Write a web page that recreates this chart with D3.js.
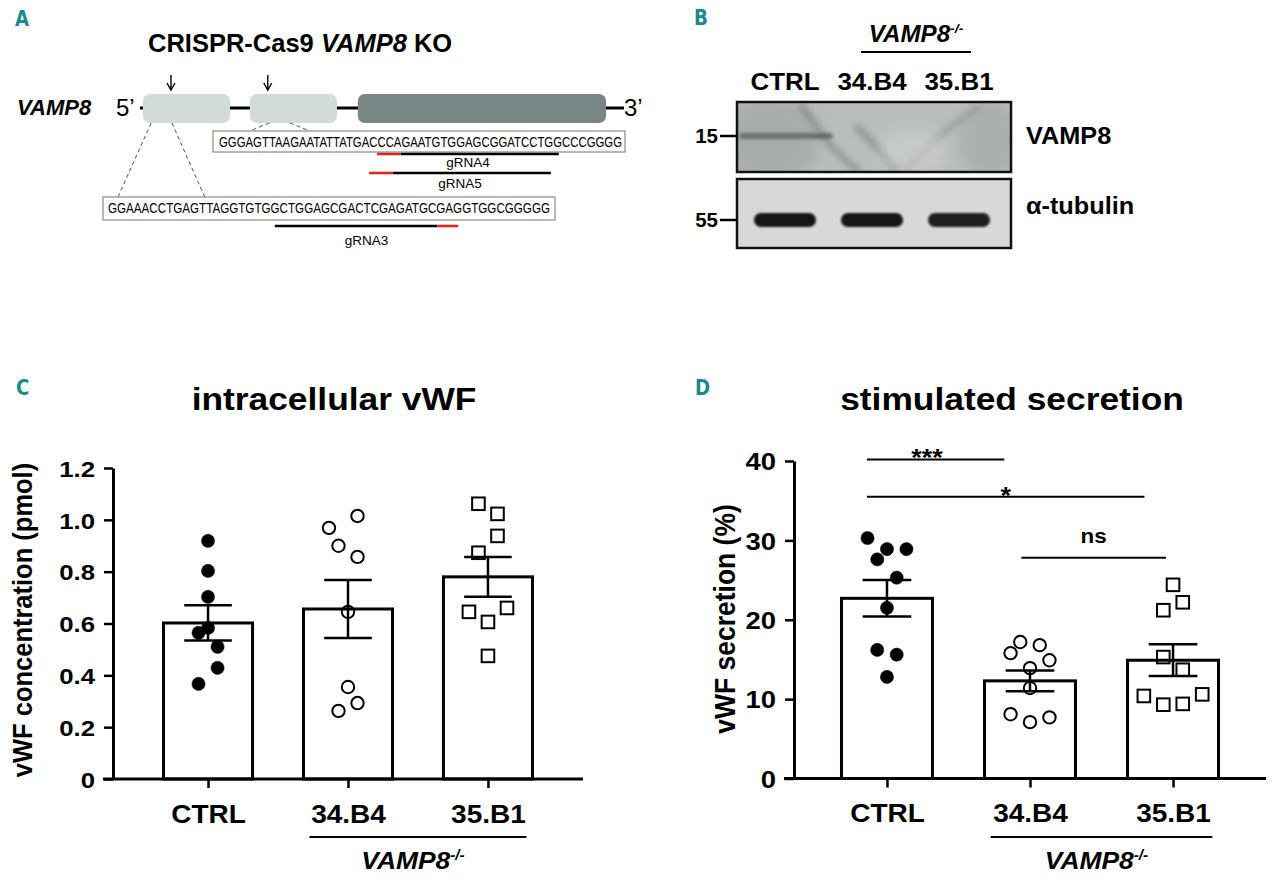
<!DOCTYPE html>
<html><head><meta charset="utf-8">
<script src="https://cdn.jsdelivr.net/npm/d3@7"></script>
<style>body{margin:0;background:#fff;} svg{display:block;font-family:"Liberation Sans",Arial,Helvetica,sans-serif;}</style>
</head><body><svg id="fig" width="1280" height="882"></svg>
<script>
// ---------------- DATA ----------------
const groups = ["CTRL", "34.B4", "35.B1"];

// Panel C: intracellular vWF (pmol)
const intraMean = [0.602, 0.656, 0.780];
const intraSEM = [0.068, 0.112, 0.077];
const intraCTRL = [0.919, 0.803, 0.703, 0.583, 0.564, 0.510, 0.429, 0.367];
const intraB4 = [1.015, 0.969, 0.900, 0.857, 0.645, 0.355, 0.293, 0.263];
const intraB1 = [1.062, 1.023, 0.938, 0.873, 0.660, 0.645, 0.606, 0.475];
const intraLanesCTRL = [0, 0, 0, 0, -1, 1, 1, -1];
const intraLanesB4 = [1, -2, -1, 1, 0, 0, 1, -1];
const intraLanesB1 = [-1, 1, 1, -1, 2, -2, 0, 0];
const intraTicks = [0, 0.2, 0.4, 0.6, 0.8, 1.0, 1.2];

// Panel D: stimulated secretion (%)
const secrMean = [22.7, 12.3, 14.9];
const secrSEM = [2.3, 1.3, 2.0];
const secrCTRL = [30.3, 28.9, 28.9, 27.6, 25.3, 21.5, 16.2, 15.6, 12.8];
const secrB4 = [17.2, 16.8, 15.8, 14.9, 13.9, 11.4, 8.1, 7.1, 7.7];
const secrB1 = [24.4, 22.2, 21.2, 15.3, 13.7, 10.4, 9.3, 9.4, 10.6];
const secrLanesCTRL = [-2, 0, 2, -1, 1, 0, -1, 1, 0];
const secrLanesB4 = [-1, 1, -2, 2, 0, 0, -2, 0, 2];
const secrLanesB1 = [0, 1, -1, -1, 1, -3, -1, 1, 3];
const secrTicks = [0, 10, 20, 30, 40];
const comparisons = [
  { from: -0.14, to: 0.82, y: 40.2, label: "***", at: 0.28 },
  { from: -0.14, to: 1.80, y: 35.5, label: "*", at: 0.83 },
  { from: 0.94, to: 1.95, y: 27.8, label: "ns", at: 1.445 }
];

// Panel A: gene schematic (relative units) and sequences
const exonStart = [0.6, 22.7, 45.0];
const exonEnd = [18.6, 40.7, 96.3];
const exonCoding = [false, false, true];
const cutSites = [6.4, 26.4];
const seqExon2 = "GGGAGTTAAGAATATTATGACCCAGAATGTGGAGCGGATCCTGGCCCGGGG";
const seqExon1 = "GGAAACCTGAGTTAGGTGTGGCTGGAGCGACTCGAGATGCGAGGTGGCGGGGG";
const guideNames = ["gRNA4", "gRNA5", "gRNA3"];
const guideTarget = ["ex2", "ex2", "ex1"];
const guideSpacer = [[23, 43], [22, 42], [20, 39.5]];
const guidePAM = [[20, 23], [19, 22], [39.5, 42]];

// Panel B: western blot
const blotLanes = ["CTRL", "34.B4", "35.B1"];
const vamp8Signal = [0.55, 0.0, 0.0];
const tubulinSignal = [1.0, 1.0, 0.95];
const markerLabels = ["15", "55"];
const blotTargets = ["VAMP8", "α-tubulin"];

// ---------------- HELPERS ----------------
const svg = d3.select("#fig");
svg.append("rect").attr("width", 1280).attr("height", 882).attr("fill", "#fff");
const defs = svg.append("defs");
function blur(id, sd) {
  defs.append("filter").attr("id", id).attr("x", "-50%").attr("y", "-50%")
    .attr("width", "200%").attr("height", "200%")
    .append("feGaussianBlur").attr("stdDeviation", sd);
}
blur("b1", 1.1); blur("b2", 1.8); blur("b3", 3); blur("b6", 7);

function stext(parent, x, y, str, o = {}) {
  const g = parent.append("g").attr("transform",
    `translate(${x},${y}) scale(${o.sx || 1},1)${o.rot ? ` rotate(${o.rot})` : ""}`);
  const t = g.append("text")
    .attr("text-anchor", o.anchor || "start")
    .attr("font-size", o.size || 20)
    .attr("font-weight", o.weight || "bold")
    .attr("font-style", o.style || "normal")
    .attr("fill", o.fill || "#000");
  if (o.family) t.attr("font-family", o.family);
  if (str !== null) t.text(str);
  return t;
}
const letterOpts = { size: 22, weight: "bold", fill: "#1a8a8a", sx: 0.92,
  family: "'Liberation Sans Narrow','DejaVu Sans Condensed','Roboto',sans-serif" };

function vampKO(parent, cx, y, size, sx) {
  const t = stext(parent, cx, y, null, { anchor: "middle", size: size, style: "italic", sx: sx });
  t.append("tspan").text("VAMP8");
  t.append("tspan").attr("dy", -size * 0.38).attr("font-size", size * 0.58).text("-/-");
  return t;
}

// ---------------- PANEL A ----------------
const A = svg.append("g");
stext(A, 15, 26, "A", letterOpts);
const ttl = stext(A, 148, 52, null, { size: 25.5 });
ttl.append("tspan").text("CRISPR-Cas9 ");
ttl.append("tspan").attr("font-style", "italic").text("VAMP8");
ttl.append("tspan").text(" KO");
stext(A, 17, 115, "VAMP8", { size: 22, style: "italic" });
stext(A, 116, 116, "5’", { size: 24, weight: "normal" });
stext(A, 624, 116, "3’", { size: 24, weight: "normal" });

const gx = d3.scaleLinear().domain([0, 100]).range([140, 624]);
const geneY = 108, exonTop = 94, exonH = 29;
A.append("line").attr("x1", gx(0)).attr("x2", gx(100)).attr("y1", geneY).attr("y2", geneY)
  .attr("stroke", "#000").attr("stroke-width", 3);
A.selectAll("rect.exon").data(exonStart).join("rect").attr("class", "exon")
  .attr("x", (d) => gx(d)).attr("y", exonTop)
  .attr("width", (d, i) => gx(exonEnd[i]) - gx(d)).attr("height", exonH)
  .attr("rx", 7).attr("fill", (d, i) => exonCoding[i] ? "#788685" : "#d3dbd9");
cutSites.forEach(c => {
  A.append("line").attr("x1", gx(c)).attr("x2", gx(c)).attr("y1", 75).attr("y2", 90)
    .attr("stroke", "#000").attr("stroke-width", 1.4);
  A.append("path").attr("d", `M${gx(c) - 4},83 L${gx(c)},90 L${gx(c) + 4},83`)
    .attr("fill", "none").attr("stroke", "#000").attr("stroke-width", 1.4);
});

const seqBoxes = {
  ex2: { x: 213, y: 131, w: 412, h: 21, tx: 219, tl: 403, base: 147, seq: seqExon2 },
  ex1: { x: 103, y: 197, w: 452, h: 23, tx: 108, tl: 442, base: 213, seq: seqExon1 }
};
Object.values(seqBoxes).forEach(b => {
  b.cx = d3.scaleLinear().domain([0, b.seq.length]).range([b.tx, b.tx + b.tl]);
  A.append("rect").attr("x", b.x).attr("y", b.y).attr("width", b.w).attr("height", b.h)
    .attr("fill", "#fff").attr("stroke", "#8a8a8a").attr("stroke-width", 1.2);
  A.append("text").attr("x", b.tx).attr("y", b.base).attr("font-size", 14.5)
    .attr("textLength", b.tl).attr("lengthAdjust", "spacingAndGlyphs").text(b.seq);
});
// zoom (dashed) lines from exons to sequence boxes
const zoomLinks = [
  { gene: [2.3, 6.6], box: "ex1", chars: [1.2, 11.6] },
  { gene: [26.7, 31.0], box: "ex2", chars: [3.9, 11.5] }
];
zoomLinks.forEach(z => {
  const b = seqBoxes[z.box];
  [0, 1].forEach(k => {
    A.append("line").attr("x1", gx(z.gene[k])).attr("y1", exonTop + exonH)
      .attr("x2", b.cx(z.chars[k])).attr("y2", b.y)
      .attr("stroke", "#555").attr("stroke-width", 1).attr("stroke-dasharray", "4,3");
  });
});
const guideRowY = [154, 173, 226];
const guideLabelY = [167, 188, 245];
guideNames.forEach((nm, i) => {
  const b = seqBoxes[guideTarget[i]];
  A.append("line").attr("x1", b.cx(guideSpacer[i][0])).attr("x2", b.cx(guideSpacer[i][1]))
    .attr("y1", guideRowY[i]).attr("y2", guideRowY[i]).attr("stroke", "#000").attr("stroke-width", 2.6);
  A.append("line").attr("x1", b.cx(guidePAM[i][0])).attr("x2", b.cx(guidePAM[i][1]))
    .attr("y1", guideRowY[i]).attr("y2", guideRowY[i]).attr("stroke", "#d42a2a").attr("stroke-width", 2.6);
  const lo = Math.min(guideSpacer[i][0], guidePAM[i][0]);
  const hi = Math.max(guideSpacer[i][1], guidePAM[i][1]);
  A.append("text").attr("x", (b.cx(lo) + b.cx(hi)) / 2).attr("y", guideLabelY[i])
    .attr("text-anchor", "middle").attr("font-size", 13.5).text(nm);
});

// ---------------- PANEL B ----------------
const B = svg.append("g");
stext(B, 694, 25, "B", letterOpts);
vampKO(B, 916, 42, 23, 1.05);
B.append("line").attr("x1", 861).attr("x2", 971).attr("y1", 52).attr("y2", 52)
  .attr("stroke", "#000").attr("stroke-width", 2);
const lx = d3.scalePoint().domain(blotLanes).range([785, 959]);
blotLanes.forEach(l => stext(B, lx(l), 90, l, { anchor: "middle", size: 24, sx: 1.08 }));
const blots = [
  { x: 737, y: 102, w: 274, h: 70, band: 136, fill: "#b9bdbc" },
  { x: 737, y: 179, w: 274, h: 69, band: 220, fill: "#d6d9d8" }
];
blots.forEach((bl, k) => {
  const cp = "clipB" + k;
  defs.append("clipPath").attr("id", cp).append("rect")
    .attr("x", bl.x).attr("y", bl.y).attr("width", bl.w).attr("height", bl.h);
  const gb = B.append("g").attr("clip-path", `url(#${cp})`);
  gb.append("rect").attr("x", bl.x).attr("y", bl.y).attr("width", bl.w).attr("height", bl.h).attr("fill", bl.fill);
  if (k === 0) {
    // background smears of the VAMP8 membrane
    gb.append("ellipse").attr("cx", 770).attr("cy", 140).attr("rx", 50).attr("ry", 45)
      .attr("fill", "#8a908f").attr("opacity", 0.35).attr("filter", "url(#b6)");
    gb.append("ellipse").attr("cx", 990).attr("cy", 140).attr("rx", 30).attr("ry", 40)
      .attr("fill", "#8f9594").attr("opacity", 0.35).attr("filter", "url(#b6)");
    gb.append("path").attr("d", "M800,104 Q815,125 830,145 Q850,165 860,172")
      .attr("stroke", "#5f6564").attr("stroke-width", 6).attr("fill", "none").attr("opacity", 0.45).attr("filter", "url(#b3)");
    gb.append("path").attr("d", "M856,126 Q880,150 898,172")
      .attr("stroke", "#5f6564").attr("stroke-width", 7).attr("fill", "none").attr("opacity", 0.45).attr("filter", "url(#b3)");
    gb.append("path").attr("d", "M905,172 Q930,140 980,106")
      .attr("stroke", "#6b7170").attr("stroke-width", 6).attr("fill", "none").attr("opacity", 0.35).attr("filter", "url(#b3)");
    gb.append("ellipse").attr("cx", 912).attr("cy", 152).attr("rx", 35).attr("ry", 22)
      .attr("fill", "#d0d3d2").attr("opacity", 0.55).attr("filter", "url(#b6)");
    blotLanes.forEach((l, i) => {
      if (vamp8Signal[i] <= 0) return;
      gb.append("rect").attr("x", lx(l) - 46).attr("y", bl.band - 3).attr("width", 94).attr("height", 6)
        .attr("rx", 3).attr("fill", "#3d4241").attr("opacity", vamp8Signal[i]).attr("filter", "url(#b2)");
    });
  } else {
    blotLanes.forEach((l, i) => {
      gb.append("rect").attr("x", lx(l) - 31).attr("y", bl.band - 7).attr("width", 62).attr("height", 14)
        .attr("rx", 7).attr("fill", "#141414").attr("opacity", tubulinSignal[i]).attr("filter", "url(#b1)");
    });
  }
  B.append("rect").attr("x", bl.x).attr("y", bl.y).attr("width", bl.w).attr("height", bl.h)
    .attr("fill", "none").attr("stroke", "#111").attr("stroke-width", 2.5);
  B.append("line").attr("x1", 720).attr("x2", bl.x).attr("y1", bl.band).attr("y2", bl.band)
    .attr("stroke", "#000").attr("stroke-width", 2.5);
  stext(B, 718, bl.band + 7, markerLabels[k], { anchor: "end", size: 19.5, sx: 1.05 });
  stext(B, 1026, bl.band + (k === 0 ? 8 : -6), blotTargets[k], { size: 23, sx: 1.1 });
});

// ---------------- PANELS C & D ----------------
function barChart(cfg) {
  const g = svg.append("g");
  const x = d3.scalePoint().domain(groups).range(cfg.xRange).padding(cfg.pad);
  const step = x.step();
  const y = d3.scaleLinear().domain(cfg.yDomain).range(cfg.yRange);
  const bw = step * 0.636, cap = step * 0.34, lane = step * 0.068;
  const ix = i => x(groups[0]) + i * step;

  stext(g, cfg.letter[0], cfg.letter[1], cfg.letterText, letterOpts);
  stext(g, cfg.titleX, 410, cfg.title, { anchor: "middle", size: 31, sx: 1.14 });

  // bars
  g.selectAll("rect.bar").data(groups).join("rect").attr("class", "bar")
    .attr("x", d => x(d) - bw / 2).attr("y", (d, i) => y(cfg.mean[i]))
    .attr("width", bw).attr("height", (d, i) => y(0) - y(cfg.mean[i]))
    .attr("fill", "#fff").attr("stroke", "#000").attr("stroke-width", 3);

  // individual points
  groups.forEach((grp, i) => {
    const pts = cfg.points[i].map((v, j) => ({ v, l: cfg.lanes[i][j] }));
    const pg = g.append("g");
    if (i === 2) {
      pg.selectAll("rect").data(pts).join("rect")
        .attr("x", d => x(grp) + d.l * lane - 6.3).attr("y", d => y(d.v) - 6.3)
        .attr("width", 12.6).attr("height", 12.6)
        .attr("fill", "none").attr("stroke", "#000").attr("stroke-width", 2);
    } else {
      pg.selectAll("circle").data(pts).join("circle")
        .attr("cx", d => x(grp) + d.l * lane).attr("cy", d => y(d.v))
        .attr("r", i === 0 ? 6.6 : 6.2)
        .attr("fill", i === 0 ? "#000" : "none")
        .attr("stroke", "#000").attr("stroke-width", i === 0 ? 0.5 : 2);
    }
  });

  // error bars (SEM)
  groups.forEach((grp, i) => {
    const lo = y(cfg.mean[i] - cfg.sem[i]), hi = y(cfg.mean[i] + cfg.sem[i]);
    const cx = x(grp);
    g.append("line").attr("x1", cx).attr("x2", cx).attr("y1", lo).attr("y2", hi)
      .attr("stroke", "#000").attr("stroke-width", 2.5);
    [lo, hi].forEach(yy => g.append("line").attr("x1", cx - cap / 2).attr("x2", cx + cap / 2)
      .attr("y1", yy).attr("y2", yy).attr("stroke", "#000").attr("stroke-width", 2.5));
  });

  // y axis
  const ya = g.append("g").attr("transform", `translate(${cfg.xRange[0]},0)`)
    .call(d3.axisLeft(y).tickValues(cfg.ticks).tickSize(9).tickSizeOuter(0).tickPadding(cfg.tickPad)
      .tickFormat(cfg.fmt));
  ya.attr("font-family", null).attr("font-size", null);
  ya.select(".domain").attr("stroke-width", 3);
  ya.selectAll(".tick line").attr("stroke-width", 2.5);
  ya.selectAll(".tick text").attr("font-size", cfg.tickSize).attr("font-weight", "bold")
    .attr("dy", "0.36em")
    .each(function () {
      const t = d3.select(this); const tx = +t.attr("x");
      t.attr("transform", `translate(${tx},0) scale(1.12,1) translate(${-tx},0)`);
    });

  // x axis
  const xa = g.append("g").attr("transform", `translate(0,${y(0)})`)
    .call(d3.axisBottom(x).tickSize(9).tickPadding(17));
  xa.attr("font-family", null).attr("font-size", null);
  xa.select(".domain").remove();
  xa.selectAll(".tick line").attr("stroke-width", 2.5);
  xa.selectAll(".tick text").attr("font-size", 25).attr("font-weight", "bold")
    .attr("transform", "scale(1.12,1)");
  g.append("line").attr("x1", cfg.xRange[0] - 10).attr("x2", cfg.xRange[1])
    .attr("y1", y(0)).attr("y2", y(0)).attr("stroke", "#000").attr("stroke-width", 3);

  // y-axis title
  stext(g, cfg.yTitleX, cfg.yTitleY, cfg.yTitle,
    { anchor: "middle", size: cfg.yTitleSize, sx: 1.12, rot: -90 });

  // knockout group bracket
  const u1 = x(groups[1]) - 0.275 * step, u2 = x(groups[2]) + 0.275 * step;
  g.append("line").attr("x1", u1).attr("x2", u2).attr("y1", 837).attr("y2", 837)
    .attr("stroke", "#000").attr("stroke-width", 2);
  vampKO(g, (u1 + u2) / 2 - 5, 869, 24, 1.1);

  // significance annotations
  (cfg.comps || []).forEach(c => {
    const yy = y(c.y);
    g.append("line").attr("x1", ix(c.from)).attr("x2", ix(c.to)).attr("y1", yy).attr("y2", yy)
      .attr("stroke", "#000").attr("stroke-width", 2);
    const isStar = c.label.indexOf("*") >= 0;
    stext(g, ix(c.at), isStar ? yy + 7 : yy - 15, c.label,
      { anchor: "middle", size: isStar ? 24 : 20, sx: 1.12 });
  });
}

barChart({
  letter: [16, 395], letterText: "C", title: "intracellular vWF", titleX: 334,
  xRange: [113, 583], pad: 0.679, yDomain: [0, 1.2], yRange: [779, 468],
  mean: intraMean, sem: intraSEM,
  points: [intraCTRL, intraB4, intraB1], lanes: [intraLanesCTRL, intraLanesB4, intraLanesB1],
  ticks: intraTicks, fmt: d => d === 0 ? "0" : d3.format(".1f")(d), tickSize: 23, tickPad: 9,
  yTitle: "vWF concentration (pmol)", yTitleX: 32, yTitleY: 620, yTitleSize: 25.5
});
barChart({
  letter: [695, 395], letterText: "D", title: "stimulated secretion", titleX: 1012,
  xRange: [794, 1266], pad: 0.65, yDomain: [0, 40], yRange: [778.5, 461],
  mean: secrMean, sem: secrSEM,
  points: [secrCTRL, secrB4, secrB1], lanes: [secrLanesCTRL, secrLanesB4, secrLanesB1],
  ticks: secrTicks, fmt: d3.format("d"), tickSize: 24.5, tickPad: 9,
  yTitle: "vWF secretion (%)", yTitleX: 735, yTitleY: 619, yTitleSize: 26.5,
  comps: comparisons
});
</script></body></html>
